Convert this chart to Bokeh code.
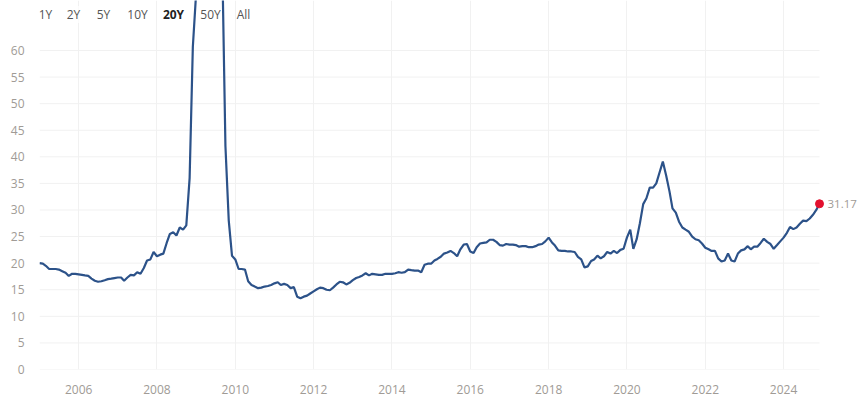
import pandas as pd
from bokeh.plotting import figure
from bokeh.models import (Range1d, FixedTicker, DatetimeTickFormatter, Label,
                          ColumnDataSource)
from bokeh.embed import file_html
from bokeh.resources import INLINE
from bokeh.core.properties import value

# S&P 500 P/E ratio, monthly, Jan 2005 - Dec 2024
pe_2005 = [20.0, 19.9, 19.5, 18.9, 18.9, 18.9, 18.8, 18.5, 18.2, 17.6, 18.0, 18.0]
pe_2006 = [17.9, 17.8, 17.7, 17.6, 17.1, 16.7, 16.5, 16.6, 16.8, 17.0, 17.1, 17.2]
pe_2007 = [17.3, 17.3, 16.7, 17.3, 17.8, 17.7, 18.3, 18.0, 19.1, 20.5, 20.7, 22.1]
pe_2008 = [21.3, 21.6, 21.8, 23.8, 25.5, 25.8, 25.2, 26.7, 26.3, 27.1, 36.0, 60.7]
pe_2009 = [70.9, 86.1, 110.4, 119.9, 123.7, 122.4, 110.0, 95.0, 77.0, 42.0, 28.0, 21.4]
pe_2010 = [20.7, 18.9, 18.9, 18.8, 16.6, 15.9, 15.6, 15.3, 15.4, 15.6, 15.7, 15.9]
pe_2011 = [16.2, 16.4, 15.9, 16.1, 15.9, 15.3, 15.5, 13.7, 13.4, 13.7, 13.9, 14.3]
pe_2012 = [14.7, 15.1, 15.4, 15.3, 15.0, 14.9, 15.4, 16.0, 16.5, 16.4, 16.0, 16.3]
pe_2013 = [16.8, 17.2, 17.4, 17.7, 18.1, 17.7, 18.0, 17.9, 17.8, 17.8, 18.0, 18.0]
pe_2014 = [18.0, 18.1, 18.3, 18.2, 18.3, 18.8, 18.7, 18.6, 18.6, 18.3, 19.7, 19.9]
pe_2015 = [19.9, 20.5, 20.8, 21.2, 21.8, 22.0, 22.3, 21.9, 21.3, 22.6, 23.5, 23.6]
pe_2016 = [22.2, 21.9, 23.0, 23.7, 23.8, 23.9, 24.4, 24.4, 24.0, 23.4, 23.3, 23.6]
pe_2017 = [23.5, 23.5, 23.4, 23.1, 23.2, 23.2, 23.0, 23.0, 23.2, 23.5, 23.6, 24.1]
pe_2018 = [24.8, 23.9, 23.3, 22.4, 22.3, 22.3, 22.2, 22.2, 22.1, 21.2, 20.7, 19.2]
pe_2019 = [19.4, 20.4, 20.7, 21.4, 20.9, 21.3, 22.1, 21.8, 22.3, 21.9, 22.5, 22.7]
pe_2020 = [24.8, 26.3, 22.7, 24.5, 27.5, 31.1, 32.2, 34.2, 34.2, 35.0, 37.1, 39.1]
pe_2021 = [36.5, 33.5, 30.3, 29.5, 27.8, 26.7, 26.3, 25.9, 25.0, 24.5, 24.3, 23.7]
pe_2022 = [22.9, 22.6, 22.3, 22.3, 20.9, 20.3, 20.5, 21.8, 20.5, 20.3, 21.8, 22.4]
pe_2023 = [22.6, 23.2, 22.6, 23.1, 23.1, 23.8, 24.6, 24.0, 23.6, 22.7, 23.4, 24.1]
pe_2024 = [24.8, 25.7, 26.8, 26.4, 26.7, 27.4, 28.0, 27.9, 28.4, 29.1, 30.0, 31.17]

pe_ratio = (pe_2005 + pe_2006 + pe_2007 + pe_2008 + pe_2009 + pe_2010 + pe_2011
            + pe_2012 + pe_2013 + pe_2014 + pe_2015 + pe_2016 + pe_2017 + pe_2018
            + pe_2019 + pe_2020 + pe_2021 + pe_2022 + pe_2023 + pe_2024)
months = pd.date_range("2005-01-01", periods=len(pe_ratio), freq="MS")

tick_years = list(range(2006, 2025, 2))
y_ticks = list(range(0, 61, 5))
range_buttons = ["1Y", "2Y", "5Y", "10Y", "20Y", "50Y", "All"]
selected_button = "20Y"

LINE = "#2c5289"
LABEL = "#a09b96"
GRID = "#f1f1f1"

W, H = 857, 396
LEFT, BOTTOM = 39, 27
PLOT_RIGHT = 819          # where the series (and its grid) ends, in pixels
frame_w = W - LEFT
data_w = PLOT_RIGHT - LEFT
x_start = months[0]
x_end = x_start + (months[-1] - x_start) * (frame_w / data_w)

p = figure(width=W, height=H, output_backend="svg", toolbar_location=None,
           x_axis_type="datetime",
           x_range=Range1d(x_start, x_end),
           y_range=Range1d(0, 69.4),
           min_border_left=LEFT, min_border_right=0,
           min_border_top=0, min_border_bottom=BOTTOM)
p.outline_line_color = None
p.background_fill_color = "white"
p.border_fill_color = "white"

# horizontal grid lines ending where the series ends
p.ygrid.grid_line_color = None
p.segment(x0=[months[0]] * len(y_ticks), x1=[months[-1]] * len(y_ticks),
          y0=y_ticks, y1=y_ticks, line_color=GRID, line_width=1, level="underlay")

tick_ms = [pd.Timestamp(f"{y}-01-01").value // 10**6 for y in tick_years]
p.xgrid.ticker = FixedTicker(ticks=tick_ms)
p.xgrid.grid_line_color = GRID

src = ColumnDataSource(dict(x=months, y=pe_ratio))
p.line("x", "y", source=src, line_color=LINE, line_width=2.2)

last = ColumnDataSource(dict(x=[months[-1]], y=[pe_ratio[-1]],
                             t=[f"{pe_ratio[-1]:.2f}"]))
p.scatter("x", "y", source=last, size=8, fill_color="#e3102e", line_color="#e3102e")
p.text("x", "y", text="t", source=last, x_offset=8, text_baseline="middle",
       text_font=value("Open Sans"), text_font_size="11.5px", text_color=LABEL)

p.xaxis.ticker = FixedTicker(ticks=tick_ms)
p.xaxis.formatter = DatetimeTickFormatter(years="%Y", months="%Y", days="%Y",
                                          hours="%Y", minutes="%Y")
p.yaxis.ticker = FixedTicker(ticks=y_ticks)

for ax in (p.xaxis[0], p.yaxis[0]):
    ax.axis_line_color = None
    ax.major_tick_line_color = None
    ax.minor_tick_line_color = None
    ax.major_label_text_color = LABEL
    ax.major_label_text_font = "Open Sans"
    ax.major_label_text_font_size = "12px"
p.xaxis.major_label_standoff = 9
p.yaxis.major_label_standoff = 9

# range-selector buttons (screen units are relative to the plot frame)
frame_h = H - BOTTOM
btn_x = [45, 73, 103, 137, 173, 210, 243]
for name, bx in zip(range_buttons, btn_x):
    sel = name == selected_button
    p.add_layout(Label(x=bx - LEFT, y=frame_h - 14, x_units="screen", y_units="screen",
                       text=name, text_align="center", text_baseline="middle",
                       text_font="Open Sans", text_font_size="12px",
                       text_font_style="bold" if sel else "normal",
                       text_color="#222222" if sel else "#555555",
                       background_fill_color="white", background_fill_alpha=0.7))

open("out.html", "w").write(file_html(p, INLINE))
